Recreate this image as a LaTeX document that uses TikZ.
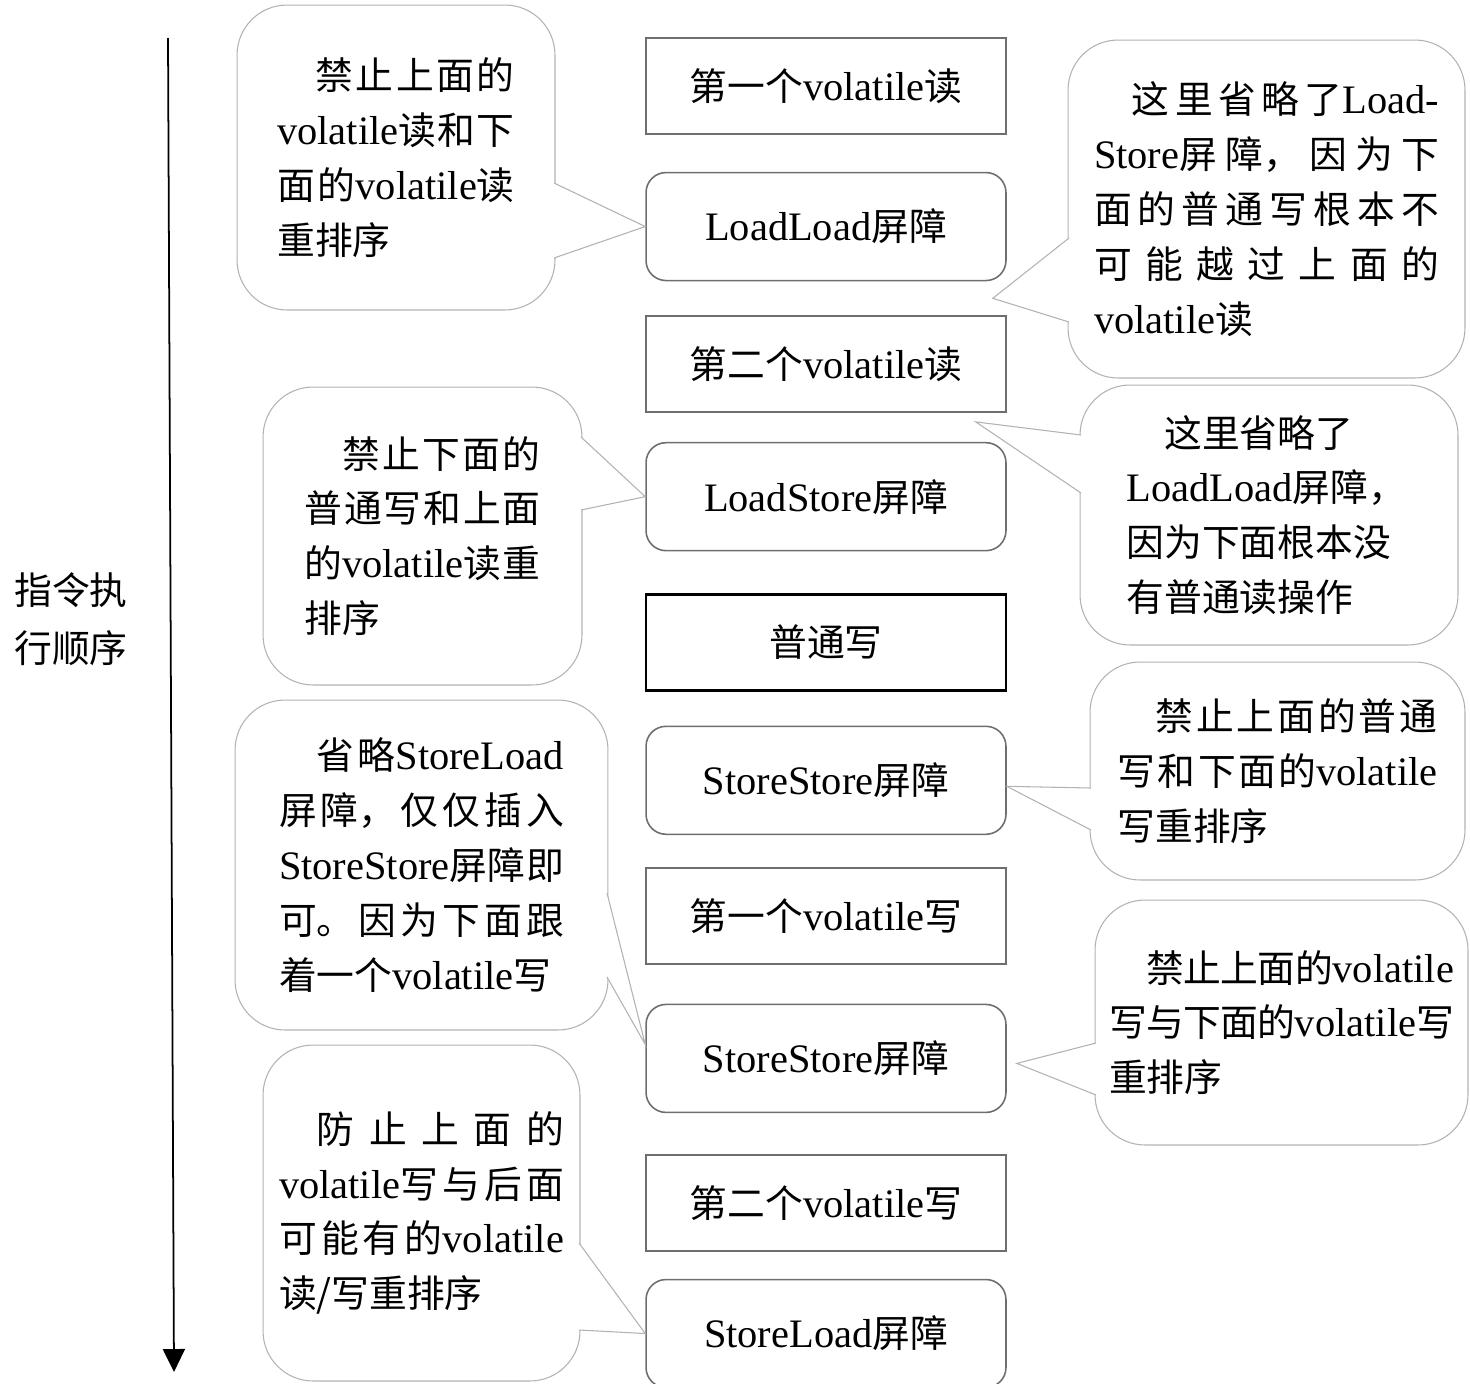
\documentclass[tikz,border=0pt]{standalone}
\usepackage{fontspec}
\setmainfont{Noto Sans CJK SC}
\newfontfamily\latinfont{Liberation Serif}[Scale=1.07]
\newcommand\eng[1]{{\latinfont #1}}
\XeTeXlinebreaklocale "zh"
\XeTeXlinebreakskip=0pt plus 10pt minus 3pt
\tolerance=10000
\hbadness=10000
\usetikzlibrary{positioning, calc, arrows.meta}
\definecolor{edgegray}{HTML}{6E6E6E}
\definecolor{bubgray}{HTML}{B2B2B2}

\begin{document}
\begin{tikzpicture}[x=0.02cm, y=-0.02cm, every node/.style={font=\fontsize{21.5}{31.2}\selectfont},
  plainbox/.style={draw=edgegray, line width=0.9pt, minimum width=7.2cm, minimum height=1.92cm},
  barrier/.style={plainbox, rounded corners=0.4cm, minimum height=2.16cm},
  bubble/.style={draw=bubgray, line width=0.6pt, rounded corners=1cm, align=justify, inner sep=0pt},
  pointer/.style={draw=bubgray, line width=0.6pt, fill=white}]
\useasboundingbox (0,0) rectangle (1470,1383);
\coordinate (first) at (168,38);
\coordinate (last) at (174,1372);
\draw[line width=1pt, -{Triangle[length=0.46cm, width=0.44cm]}] (first) -- (last);
\node[align=left, font=\fontsize{21.5}{33}\selectfont] (order) at (71,619) {指令执\\行顺序};
\node[plainbox] (vr1) at (826,86) {第一个\eng{volatile}读};
\node[barrier, below=0.74cm of vr1] (ll) {\eng{LoadLoad}屏障};
\node[plainbox, below=0.68cm of ll] (vr2) {第二个\eng{volatile}读};
\node[barrier, below=0.58cm of vr2] (ls) {\eng{LoadStore}屏障};
\node[plainbox, draw=black, line width=1.2pt, below=0.84cm of ls] (nw) {普通写};
\node[barrier, below=0.68cm of nw] (ss1) {\eng{StoreStore}屏障};
\node[plainbox, below=0.64cm of ss1] (vw1) {第一个\eng{volatile}写};
\node[barrier, below=0.78cm of vw1] (ss2) {\eng{StoreStore}屏障};
\node[plainbox, below=0.82cm of ss2] (vw2) {第二个\eng{volatile}写};
\node[barrier, below=0.54cm of vw2] (sl) {\eng{StoreLoad}屏障};
\coordinate (gap2) at ($(ll.south east)!0.5!(vr2.north east)+(-14,0)$);
\coordinate (gap3) at ($(vr2.south east)+(-31,9)$);
\node[bubble, text width=4.75cm, minimum width=6.36cm, minimum height=6.1cm] (c1) at (396,157.5) {\hspace*{1em}禁止上面的\linebreak \eng{volatile}读和下\linebreak 面的\eng{volatile}读\linebreak 重排序};
\node[bubble, text width=6.9cm, minimum width=7.94cm, minimum height=6.76cm] (c2) at (1266.5,209) {\hspace*{1em}这里省略了\eng{Load-}\linebreak \eng{Store}屏障，因为下\linebreak 面的普通写根本不\linebreak 可能越过上面的\linebreak \eng{volatile}读};
\node[bubble, align=left, text width=5.7cm, minimum width=7.56cm, minimum height=5.2cm] (c3) at (1269,515) {\hspace*{1em}这里省略了\\\eng{LoadLoad}屏障，\\因为下面根本没\\有普通读操作};
\node[bubble, text width=4.72cm, minimum width=6.38cm, minimum height=5.96cm] (c4) at (422.5,536) {\hspace*{1em}禁止下面的\linebreak 普通写和上面\linebreak 的\eng{volatile}读重\linebreak 排序};
\node[bubble, text width=6.4cm, minimum width=7.5cm, minimum height=4.36cm] (c5) at (1277.5,771) {\hspace*{1em}禁止上面的普通\linebreak 写和下面的\eng{volatile}\linebreak 写重排序};
\node[bubble, text width=5.7cm, minimum width=7.46cm, minimum height=6.6cm] (c6) at (421.5,865) {\hspace*{1em}省略\eng{StoreLoad}\linebreak 屏障，仅仅插入\linebreak \eng{StoreStore}屏障即\linebreak 可。因为下面跟\linebreak 着一个\eng{volatile}写};
\node[bubble, text width=6.9cm, minimum width=7.46cm, minimum height=4.9cm] (c7) at (1281.5,1022.5) {\hspace*{1em}禁止上面的\eng{volatile}\linebreak 写与下面的\eng{volatile}写\linebreak 重排序};
\node[bubble, text width=5.7cm, minimum width=6.34cm, minimum height=6.72cm] (c8) at (421.5,1213) {\hspace*{1em}防止上面的\linebreak \eng{volatile}写与后面\linebreak 可能有的\eng{volatile}\linebreak 读/写重排序};
\draw[pointer] ($(c1.east)+(-1.5,25.5)$) -- (ll.west) -- ($(c1.east)+(-1.5,100.5)$);
\draw[pointer] ($(c2.west)+(1.5,29)$) -- (gap2) -- ($(c2.west)+(1.5,113)$);
\draw[pointer] ($(c3.west)+(1.5,-80)$) -- (gap3) -- ($(c3.west)+(1.5,-22)$);
\draw[pointer] ($(c4.east)+(-1.5,-99)$) -- (ls.west) -- ($(c4.east)+(-1.5,-26)$);
\draw[pointer] ($(c5.west)+(1.5,17)$) -- ($(ss1.east)+(0,6)$) -- ($(c5.west)+(1.5,59)$);
\draw[pointer] ($(c6.east)+(-1.5,28)$) -- ($(ss2.west)+(0,-14)$) -- ($(c6.east)+(-1.5,112)$);
\draw[pointer] ($(c7.west)+(1.5,20.5)$) -- ($(ss2.east)+(10,5)$) -- ($(c7.west)+(1.5,72.5)$);
\draw[pointer] ($(c8.east)+(-1.5,30)$) -- (sl.west) -- ($(c8.east)+(-1.5,117)$);
\end{tikzpicture}
\end{document}
